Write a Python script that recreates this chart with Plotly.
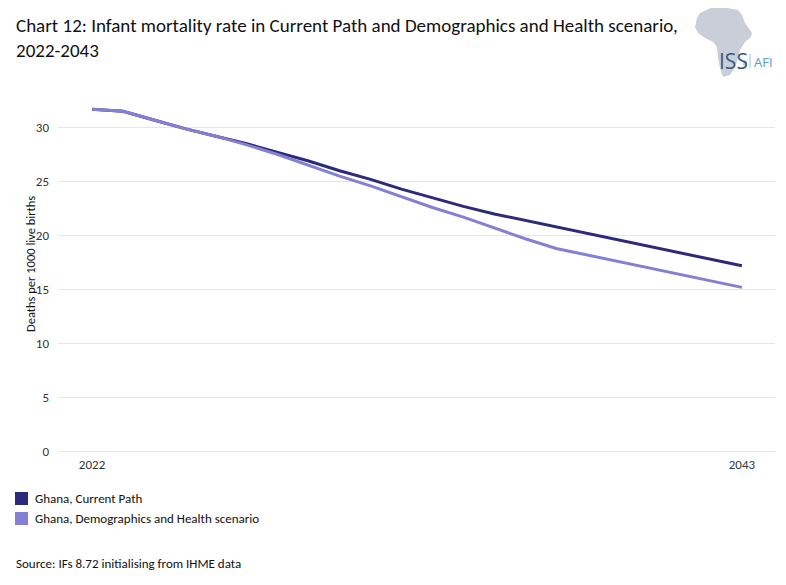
import plotly.graph_objects as go

# data
years = list(range(2022, 2044))
current_path = [31.7, 31.5, 30.7, 29.9, 29.2, 28.5, 27.7, 26.9, 26.0, 25.2, 24.3, 23.5,
                22.7, 22.0, 21.4, 20.8, 20.2, 19.6, 19.0, 18.4, 17.8, 17.2]
demo_health = [31.7, 31.5, 30.7, 29.9, 29.2, 28.4, 27.5, 26.5, 25.5, 24.6, 23.6, 22.6,
               21.7, 20.7, 19.7, 18.8, 18.2, 17.6, 17.0, 16.4, 15.8, 15.2]
series_names = ["Ghana, Current Path", "Ghana, Demographics and Health scenario"]
series_colors = ["#2c2a7a", "#8480d4"]
y_ticks = [0, 5, 10, 15, 20, 25, 30]
x_ticks = [2022, 2043]

FONT = "Carlito, Lato, sans-serif"

# the page body has an 8px margin, so work in screen pixels and shift
OFF = 8
W, H = 786 - 2 * OFF, 585 - 2 * OFF
L, R, T, B = 58, 775, 100, 455  # plot area in screen pixels


def px(x):
    return (x - L) / (R - L)


def py(y):
    return (B - y) / (B - T)


fig = go.Figure()
for name, vals, col in zip(series_names, [current_path, demo_health], series_colors):
    fig.add_trace(go.Scatter(x=years, y=vals, mode="lines", name=name,
                             line=dict(color=col, width=3), showlegend=False))

fig.update_layout(
    width=W, height=H,
    margin=dict(l=L - OFF, r=786 - OFF - R, t=T - OFF, b=585 - OFF - B),
    plot_bgcolor="white", paper_bgcolor="white",
    font=dict(family=FONT, size=13, color="#333333"),
    xaxis=dict(range=[2020.9, 2044.07], tickvals=x_ticks, showgrid=False,
               zeroline=False, showline=False, ticks="", tickfont=dict(size=13)),
    yaxis=dict(range=[-0.32, 32.55], tickvals=y_ticks, gridcolor="#e6e6e6",
               zeroline=False, showline=False, ticks="", ticklabelstandoff=8,
               tickfont=dict(size=13)),
)


def note(x, y, text, size=13, color="#111111", xanchor="left", **kw):
    fig.add_annotation(xref="paper", yref="paper", x=px(x), y=py(y), xanchor=xanchor,
                       yanchor=kw.pop("yanchor", "middle"), showarrow=False, text=text,
                       font=dict(size=size, color=color, family=kw.pop("family", FONT)), **kw)


# title
note(14, 12, "Chart 12: Infant mortality rate in Current Path and Demographics and Health scenario,<br>2022-2043",
     size=19, yanchor="top", align="left")

# y axis title
note(30, 264, "Deaths per 1000 live births", size=12.5, xanchor="center", textangle=-90)

# legend
for i, (name, col) in enumerate(zip(series_names, series_colors)):
    top = 492 + i * 20
    fig.add_shape(type="rect", xref="paper", yref="paper",
                  x0=px(15), x1=px(28), y0=py(top), y1=py(top + 13),
                  fillcolor=col, line=dict(width=0))
    note(33, top + 6.5, name)

# source
note(14, 563, "Source: IFs 8.72 initialising from IHME data")

# ISS AFI logo: rough outline of Africa plus the wordmark
africa = [(700, 13), (713, 7), (727, 8), (738, 10), (742, 15), (745, 23), (752, 33),
          (751, 37), (745, 42), (740, 50), (738, 58), (735, 67), (730, 75), (723, 77),
          (720, 68), (718, 58), (717, 47), (713, 42), (705, 38), (698, 33), (695, 27),
          (697, 18)]
path = "M " + " L ".join(f"{px(a):.4f},{py(b):.4f}" for a, b in africa) + " Z"
fig.add_shape(type="path", xref="paper", yref="paper", path=path,
              fillcolor="#c9ced8", line=dict(width=0), layer="below")
fig.add_shape(type="circle", xref="paper", yref="paper", x0=px(743), x1=px(747),
              y0=py(60), y1=py(67), fillcolor="#c9ced8", line=dict(width=0))
note(733, 61, "ISS", size=21, color="#3b5b85", xanchor="center", family="Open Sans")
fig.add_shape(type="line", xref="paper", yref="paper", x0=px(750), x1=px(750),
              y0=py(54), y1=py(68), line=dict(color="#9bbfd8", width=1))
note(763.5, 62, "AFI", size=13, color="#5a9ac6", xanchor="center", family="Open Sans")

fig.write_html("out.html")
